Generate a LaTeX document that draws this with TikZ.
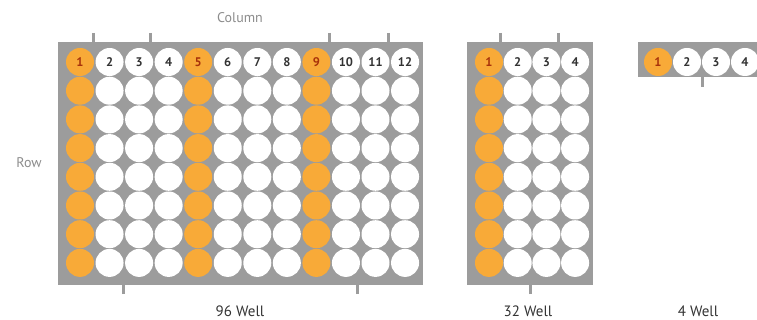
\documentclass[tikz,border=0pt]{standalone}
\usepackage{fontspec}
\setmainfont{PT Sans}
\usepackage{tikz}

\definecolor{plategray}{HTML}{9C9C9C}
\definecolor{wellorange}{HTML}{F8AA38}
\definecolor{numred}{HTML}{A8320A}
\definecolor{labelgray}{HTML}{8C8C8C}
\definecolor{textdark}{HTML}{333333}

\begin{document}
\begin{tikzpicture}[
    x=1pt, y=-1pt,
    plate/.style={fill=plategray, draw=none},
    well/.style={circle, fill=white, minimum size=28pt, inner sep=0pt,
                 font=\fontsize{12.5}{12.5}\selectfont\bfseries, text=textdark},
    hot/.style={well, fill=wellorange, text=numred},
    tick/.style={draw=plategray, line width=3pt},
    axislabel/.style={font=\fontsize{14}{14}\selectfont, text=labelgray},
    caption/.style={font=\fontsize{15}{15}\selectfont, text=textdark}
]
\useasboundingbox (0,0) rectangle (757,320);
\clip (0,0) rectangle (757,320);

% 96 well plate
\node[plate, minimum width=365pt, minimum height=243pt, inner sep=0pt,
      anchor=north west] (p96) at (58,42) {};
\foreach \c in {1,...,12}{
  \foreach \r in {1,...,8}{
    \pgfmathsetmacro{\wx}{80+29.55*(\c-1)}
    \pgfmathsetmacro{\wy}{62+28.7*(\r-1)}
    \ifnum\r=1 \def\lbl{\c}\else\def\lbl{}\fi
    \ifnum\c=1 \def\wst{hot}\else\ifnum\c=5 \def\wst{hot}\else\ifnum\c=9 \def\wst{hot}\else\def\wst{well}\fi\fi\fi
    \node[\wst] (a-\c-\r) at (\wx,\wy) {\lbl};
  }
}
\coordinate (t1) at (93,33);
\coordinate (t2) at (150,33);
\coordinate (t3) at (329,33);
\coordinate (t4) at (388,33);
\draw[tick] (t1) -- (t1 |- p96.north);
\draw[tick] (t2) -- (t2 |- p96.north);
\draw[tick] (t3) -- (t3 |- p96.north);
\draw[tick] (t4) -- (t4 |- p96.north);
\coordinate (b1) at (123,294);
\coordinate (b2) at (357,294);
\draw[tick] (b1) -- (b1 |- p96.south);
\draw[tick] (b2) -- (b2 |- p96.south);

\node[axislabel] (col) at (240,18) {Column};
\node[axislabel] (row) at (29,163) {Row};
\node[caption] (c96) at (240,311) {96 Well};

% 32 well plate
\node[plate, minimum width=126pt, minimum height=243pt, inner sep=0pt,
      anchor=north west] (p32) at (467,42) {};
\foreach \c in {1,...,4}{
  \foreach \r in {1,...,8}{
    \pgfmathsetmacro{\wx}{489+28.7*(\c-1)}
    \pgfmathsetmacro{\wy}{62+28.7*(\r-1)}
    \ifnum\r=1 \def\lbl{\c}\else\def\lbl{}\fi
    \ifnum\c=1 \def\wst{hot}\else\def\wst{well}\fi
    \node[\wst] (b-\c-\r) at (\wx,\wy) {\lbl};
  }
}
\coordinate (t5) at (500,33);
\coordinate (t6) at (558,33);
\draw[tick] (t5) -- (t5 |- p32.north);
\draw[tick] (t6) -- (t6 |- p32.north);
\coordinate (b3) at (530,294);
\draw[tick] (b3) -- (b3 |- p32.south);
\node[caption] (c32) at (528,311) {32 Well};

% 4 well strip
\node[plate, minimum width=140pt, minimum height=35pt, inner sep=0pt,
      anchor=north west] (p4) at (638,42) {};
\foreach \c in {1,...,4}{
  \pgfmathsetmacro{\wx}{658+29*(\c-1)}
  \ifnum\c=1 \def\wst{hot}\else\def\wst{well}\fi
  \node[\wst] (s-\c) at (\wx,62) {\c};
}
\coordinate (b4) at (702,87);
\draw[tick] (b4) -- (b4 |- p4.south);
\node[caption] (c4) at (698,311) {4 Well};
\end{tikzpicture}
\end{document}
